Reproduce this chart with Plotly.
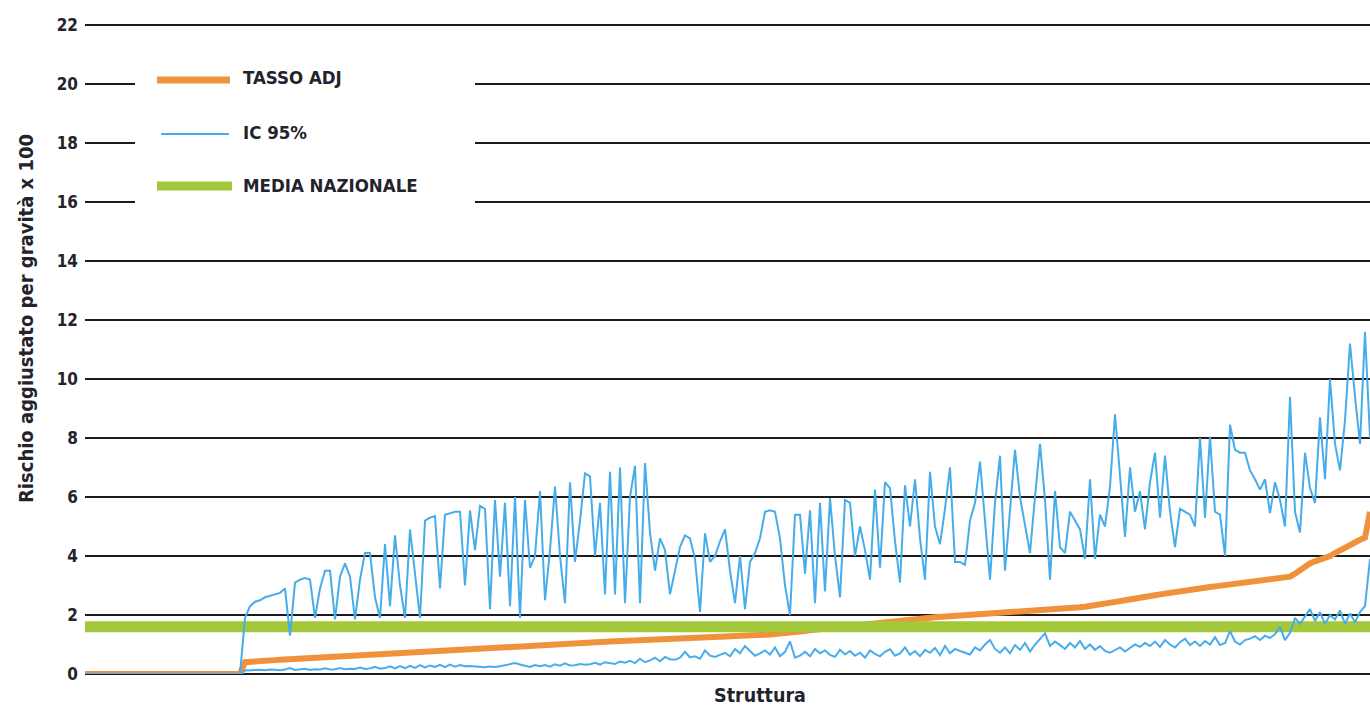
import plotly.graph_objects as go

# Structures with no events (rate and interval all zero)
zero_rate = [0, 0, 0, 0, 0, 0, 0, 0, 0, 0, 0, 0, 0, 0, 0, 0,
             0, 0, 0, 0, 0, 0, 0, 0, 0, 0, 0, 0, 0, 0, 0, 0]

# Adjusted rate (TASSO ADJ), structures sorted by rate
tasso_adj = [
    0.40, 0.42, 0.43, 0.44, 0.45, 0.46, 0.47, 0.48, 0.49, 0.50,
    0.51, 0.52, 0.53, 0.54, 0.55, 0.56, 0.57, 0.58, 0.59, 0.60,
    0.61, 0.62, 0.63, 0.64, 0.65, 0.66, 0.67, 0.68, 0.69, 0.70,
    0.71, 0.72, 0.73, 0.74, 0.75, 0.76, 0.77, 0.78, 0.79, 0.80,
    0.81, 0.82, 0.83, 0.84, 0.85, 0.86, 0.87, 0.88, 0.89, 0.90,
    0.91, 0.92, 0.93, 0.94, 0.95, 0.96, 0.97, 0.97, 0.98, 0.99,
    1.00, 1.01, 1.01, 1.02, 1.03, 1.04, 1.04, 1.05, 1.06, 1.07,
    1.07, 1.08, 1.09, 1.10, 1.10, 1.11, 1.12, 1.13, 1.13, 1.14,
    1.15, 1.16, 1.16, 1.17, 1.18, 1.19, 1.19, 1.20, 1.21, 1.22,
    1.22, 1.23, 1.24, 1.25, 1.25, 1.26, 1.27, 1.28, 1.28, 1.29,
    1.30, 1.31, 1.31, 1.32, 1.33, 1.34, 1.35, 1.36, 1.38, 1.40,
    1.42, 1.44, 1.46, 1.48, 1.50, 1.52, 1.54, 1.56, 1.58, 1.60,
    1.62, 1.64, 1.66, 1.68, 1.70, 1.72, 1.74, 1.76, 1.78, 1.80,
    1.82, 1.84, 1.86, 1.87, 1.88, 1.89, 1.90, 1.91, 1.92, 1.93,
    1.94, 1.95, 1.96, 1.97, 1.98, 1.99, 2.00, 2.01, 2.02, 2.03,
    2.04, 2.05, 2.06, 2.07, 2.08, 2.09, 2.10, 2.11, 2.12, 2.13,
    2.14, 2.15, 2.16, 2.18, 2.20, 2.22, 2.24, 2.26, 2.28, 2.30,
    2.33, 2.36, 2.39, 2.42, 2.45, 2.47, 2.50, 2.52, 2.55, 2.58,
    2.61, 2.64, 2.67, 2.70, 2.73, 2.76, 2.79, 2.82, 2.85, 2.87,
    2.89, 2.91, 2.93, 2.95, 2.97, 2.99, 3.01, 3.03, 3.05, 3.07,
    3.09, 3.11, 3.13, 3.15, 3.17, 3.19, 3.21, 3.23, 3.26, 3.30,
    3.40, 3.52, 3.65, 3.75, 3.82, 3.88, 3.92, 4.00, 4.10, 4.20,
    4.28, 4.36, 4.45, 4.55, 4.62, 5.50,
]

# Upper bound of the 95% confidence interval
ic_sup = [
    1.90, 2.30, 2.45, 2.50, 2.60, 2.65, 2.70, 2.75, 2.90, 1.30,
    3.10, 3.20, 3.25, 3.20, 1.90, 2.90, 3.50, 3.50, 1.85, 3.30,
    3.75, 3.30, 1.85, 3.20, 4.10, 4.10, 2.60, 1.90, 4.40, 2.30,
    4.70, 3.00, 1.90, 4.90, 3.40, 1.90, 5.20, 5.30, 5.35, 2.90,
    5.40, 5.45, 5.50, 5.50, 3.00, 5.55, 4.20, 5.70, 5.60, 2.20,
    5.90, 3.30, 5.80, 2.30, 6.00, 1.90, 5.90, 3.60, 4.00, 6.20,
    2.50, 4.20, 6.35, 4.00, 2.40, 6.50, 3.80, 5.20, 6.80, 6.70,
    4.00, 5.80, 2.70, 6.85, 2.70, 7.00, 2.40, 6.00, 7.05, 2.40,
    7.15, 4.80, 3.50, 4.60, 4.20, 2.70, 3.50, 4.30, 4.70, 4.60,
    3.90, 2.10, 4.77, 3.80, 4.00, 4.50, 4.90, 3.50, 2.40, 4.00,
    2.20, 3.80, 4.10, 4.60, 5.50, 5.55, 5.50, 4.60, 3.00, 2.00,
    5.40, 5.40, 3.40, 5.55, 2.40, 5.80, 2.80, 5.96, 4.00, 2.60,
    5.90, 5.80, 4.00, 5.00, 4.20, 3.20, 6.25, 3.60, 6.50, 6.30,
    4.50, 3.10, 6.40, 5.00, 6.60, 4.60, 3.20, 6.85, 5.00, 4.40,
    5.60, 7.00, 3.80, 3.80, 3.70, 5.20, 5.80, 7.20, 5.20, 3.20,
    5.80, 7.40, 3.50, 5.60, 7.60, 6.00, 5.00, 4.10, 6.00, 7.80,
    5.90, 3.20, 6.20, 4.30, 4.10, 5.50, 5.20, 4.90, 3.90, 6.60,
    3.90, 5.40, 5.00, 6.35, 8.80, 6.80, 4.65, 7.00, 5.50, 6.20,
    4.90, 6.50, 7.50, 5.30, 7.40, 5.50, 4.30, 5.60, 5.50, 5.40,
    5.00, 8.00, 5.30, 8.05, 5.50, 5.40, 4.00, 8.45, 7.60, 7.50,
    7.50, 6.90, 6.60, 6.25, 6.60, 5.45, 6.50, 5.90, 5.00, 9.40,
    5.50, 4.80, 7.50, 6.30, 5.80, 8.70, 6.60, 10.00, 7.80, 6.90,
    8.60, 11.20, 9.40, 7.80, 11.60, 8.00,
]

# Lower bound of the 95% confidence interval
ic_inf = [
    0.12, 0.13, 0.12, 0.14, 0.13, 0.15, 0.14, 0.13, 0.15, 0.20,
    0.14, 0.15, 0.18, 0.14, 0.16, 0.15, 0.19, 0.15, 0.16, 0.20,
    0.16, 0.18, 0.17, 0.22, 0.17, 0.19, 0.24, 0.18, 0.20, 0.26,
    0.19, 0.27, 0.20, 0.28, 0.21, 0.30, 0.22, 0.29, 0.24, 0.31,
    0.23, 0.32, 0.25, 0.30, 0.26, 0.27, 0.25, 0.24, 0.23, 0.25,
    0.24, 0.26, 0.30, 0.33, 0.37, 0.32, 0.28, 0.24, 0.30, 0.26,
    0.30, 0.25, 0.33, 0.28, 0.36, 0.29, 0.30, 0.34, 0.31, 0.33,
    0.38, 0.32, 0.40, 0.36, 0.34, 0.42, 0.38, 0.45, 0.37, 0.52,
    0.40, 0.46, 0.55, 0.43, 0.58, 0.50, 0.48, 0.55, 0.75, 0.56,
    0.60, 0.52, 0.80, 0.62, 0.58, 0.65, 0.72, 0.60, 0.85, 0.70,
    0.95, 0.78, 0.62, 0.70, 0.80, 0.66, 0.90, 0.60, 0.75, 1.10,
    0.55, 0.62, 0.75, 0.60, 0.85, 0.70, 0.80, 0.65, 0.58, 0.82,
    0.66, 0.78, 0.62, 0.72, 0.55, 0.80, 0.68, 0.60, 0.75, 0.84,
    0.62, 0.70, 0.90, 0.65, 0.78, 0.60, 0.82, 0.72, 0.88, 0.64,
    0.95, 0.70, 0.85, 0.78, 0.72, 0.66, 0.90, 0.80, 1.00, 1.15,
    0.85, 0.72, 0.90, 0.70, 0.98, 0.82, 1.05, 0.76, 1.00, 1.20,
    1.38, 0.95, 1.10, 0.98, 0.85, 1.05, 0.90, 1.12, 0.85, 1.00,
    0.82, 0.95, 0.78, 0.72, 0.80, 0.90, 0.76, 0.88, 1.00, 0.92,
    1.05, 0.95, 1.10, 0.92, 1.15, 1.00, 0.90, 1.08, 1.20, 0.98,
    1.10, 0.95, 1.12, 1.00, 1.25, 0.98, 1.05, 1.45, 1.10, 1.00,
    1.15, 1.20, 1.28, 1.15, 1.30, 1.22, 1.35, 1.60, 1.15, 1.40,
    1.90, 1.70, 1.95, 2.20, 1.80, 2.10, 1.70, 2.00, 1.85, 2.15,
    1.70, 2.05, 1.75, 2.10, 2.30, 3.90,
]

media_nazionale = 1.6

y_ticks = [0, 2, 4, 6, 8, 10, 12, 14, 16, 18, 20, 22]
y_tick_labels = ["0", "2", "4", "6", "8", "10", "12", "14", "16", "18", "20", "22"]

legend_labels = ["TASSO ADJ", "IC 95%", "MEDIA NAZIONALE"]

ORANGE = "#F0913B"
BLUE = "#47ADEA"
GREEN = "#A3C93A"
INK = "#23232b"
FONT = "DejaVu Sans Condensed"

rate = zero_rate + tasso_adj
upper = zero_rate + ic_sup
lower = zero_rate + ic_inf
structures = list(range(len(rate)))

fig = go.Figure()
fig.add_trace(go.Scatter(x=structures, y=rate, mode="lines",
                         line=dict(color=ORANGE, width=6), name=legend_labels[0]))
fig.add_trace(go.Scatter(x=[structures[0], structures[-1]],
                         y=[media_nazionale, media_nazionale], mode="lines",
                         line=dict(color=GREEN, width=11), name=legend_labels[2]))
fig.add_trace(go.Scatter(x=structures, y=lower, mode="lines",
                         line=dict(color=BLUE, width=2), name=legend_labels[1]))
fig.add_trace(go.Scatter(x=structures, y=upper, mode="lines",
                         line=dict(color=BLUE, width=2), name=legend_labels[1]))

# Page geometry: y range runs a little past 22 so its gridline is drawn
W, H = 1370, 708
Y_TOP = 22.1
L, R, B = 85, 0, 34
y0_px, y22_px = H - B, 25
unit = (y0_px - y22_px) / 22.0
T = int(round(y22_px - (Y_TOP - 22) * unit))
pw = W - L - R
ph = H - T - B


def px(xp):
    return (xp - L) / pw


def py(yp):
    return (H - B - yp) / ph


# Hand-drawn legend box in the upper-left corner of the plot
shapes = [
    dict(type="rect", xref="paper", yref="paper", x0=px(135), x1=px(475),
         y0=py(222), y1=py(42), fillcolor="white", line=dict(width=0), layer="above"),
    dict(type="line", xref="paper", yref="paper", x0=px(157), x1=px(230),
         y0=py(80), y1=py(80), line=dict(color=ORANGE, width=7), layer="above"),
    dict(type="line", xref="paper", yref="paper", x0=px(161), x1=px(229),
         y0=py(134), y1=py(134), line=dict(color=BLUE, width=2), layer="above"),
    dict(type="line", xref="paper", yref="paper", x0=px(157), x1=px(232),
         y0=py(186), y1=py(186), line=dict(color=GREEN, width=9), layer="above"),
]

annotations = []
for lbl, yp in zip(legend_labels, [78, 132, 185]):
    annotations.append(dict(text=lbl, xref="paper", yref="paper", x=px(241), y=py(yp),
                            xanchor="left", yanchor="middle", showarrow=False,
                            font=dict(family=FONT, size=18.5, color=INK, weight="bold")))
annotations.append(dict(text="Rischio aggiustato per gravità x 100", xref="paper", yref="paper",
                        x=px(26), y=py(319), textangle=-90, xanchor="center", yanchor="middle",
                        showarrow=False, font=dict(family=FONT, size=20, color=INK, weight="bold")))
annotations.append(dict(text="Struttura", xref="paper", yref="paper", x=px(760), y=py(695),
                        xanchor="center", yanchor="middle", showarrow=False,
                        font=dict(family=FONT, size=19.5, color=INK, weight="bold")))

fig.update_layout(
    width=W, height=H,
    margin=dict(l=L, r=R, t=T, b=B),
    paper_bgcolor="white", plot_bgcolor="white",
    showlegend=False,
    shapes=shapes, annotations=annotations,
    xaxis=dict(range=[0, len(rate) - 1], showgrid=False, zeroline=False,
               showticklabels=False, ticks="", showline=False),
    yaxis=dict(range=[0, Y_TOP], tickvals=y_ticks, ticktext=y_tick_labels,
               showgrid=True, gridcolor="#1c1c1c", gridwidth=2,
               zeroline=True, zerolinecolor="#1c1c1c", zerolinewidth=2,
               ticks="", showline=False, ticklabelstandoff=6,
               tickfont=dict(family=FONT, size=17, color=INK, weight="bold")),
)

fig.write_html("out.html")
